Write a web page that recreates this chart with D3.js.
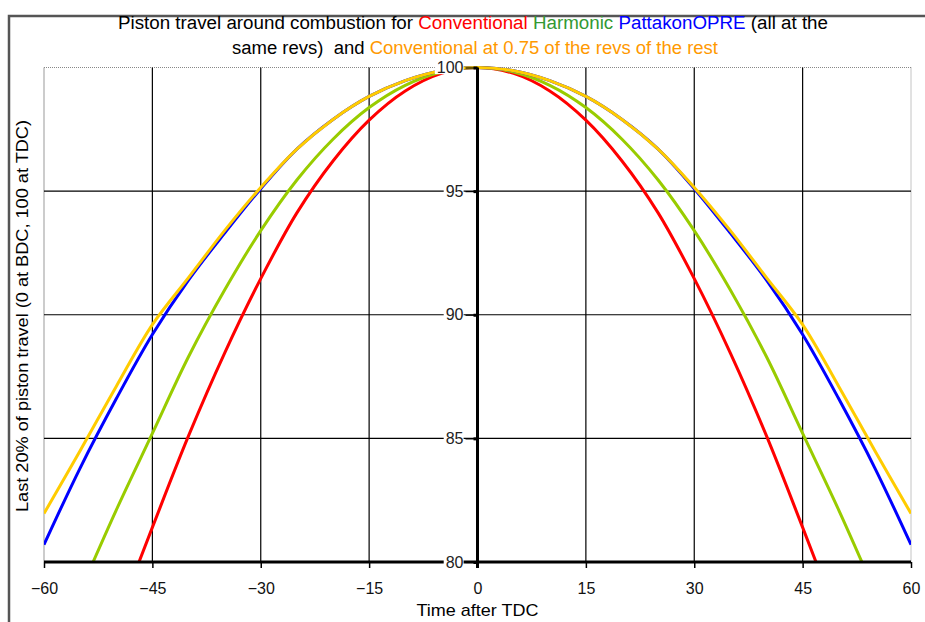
<!DOCTYPE html>
<html><head><meta charset="utf-8">
<script src="https://cdn.jsdelivr.net/npm/d3@7"></script>
<style>body{margin:0;background:#fff}svg{display:block}text{font-family:"Liberation Sans",Arial,sans-serif}</style>
</head><body><svg id="c" width="925" height="622"></svg>
<script>
const times = [-60,-55,-50,-45,-40,-35,-30,-25,-20,-15,-10,-5,0,5,10,15,20,25,30,35,40,45,50,55,60];
const conventional = [null,null,77.6,81.4,85.1,88.45,91.46,94.12,96.22,97.87,99.05,99.76,100,99.76,99.05,97.87,96.22,94.12,91.46,88.45,85.1,81.4,77.6,null,null];
const harmonic = [null,78.8,82.1,85.2,88.3,91.0,93.4,95.45,97.1,98.38,99.28,99.82,100,99.82,99.28,98.38,97.1,95.45,93.4,91.0,88.3,85.2,82.1,78.8,null];
const pattakon = [80.7,83.8,86.6,89.2,91.4,93.3,95.1,96.7,97.9,98.83,99.47,99.87,100,99.87,99.47,98.83,97.9,96.7,95.1,93.3,91.4,89.2,86.6,83.8,80.7];
const conv075 = [81.96,84.5,87.1,89.6,91.5,93.4,95.15,96.7,97.9,98.83,99.47,99.87,100,99.87,99.47,98.83,97.9,96.7,95.15,93.4,91.5,89.6,87.1,84.5,81.96];
const xTicks = [-60,-45,-30,-15,0,15,30,45,60];
const yTicks = [80,85,90,95,100];
const seriesNames = ["Conventional","Harmonic","PattakonOPRE","Conventional at 0.75 of the revs of the rest"];
const lineColors = ["#ff0000","#99cc00","#0000ff","#ffcc00"];

const svg = d3.select("#c");
const x = d3.scaleLinear().domain([-60,60]).range([44,911]);
const y = d3.scaleLinear().domain([80,100]).range([562,67.5]);

// outer frame
svg.append("path").attr("d","M9,622 L9,16 L925,16").attr("fill","none").attr("stroke","#555").attr("stroke-width",2.5);

// plot frame
svg.append("line").attr("x1",x(-60)).attr("x2",x(-60)).attr("y1",y(100)).attr("y2",y(80)).attr("stroke","#999").attr("stroke-width",1);
svg.append("line").attr("x1",x(-60)).attr("x2",x(60)).attr("y1",y(100)).attr("y2",y(100)).attr("stroke","#888").attr("stroke-width",1).attr("stroke-dasharray","1,1");
svg.append("line").attr("x1",x(60)).attr("x2",x(60)).attr("y1",y(100)).attr("y2",y(80)).attr("stroke","#888").attr("stroke-width",1).attr("stroke-dasharray","1,1");

// grid
svg.append("g").selectAll("line").data(xTicks.filter(t=>t!==-60&&t!==0&&t!==60)).join("line")
  .attr("x1",d=>x(d)).attr("x2",d=>x(d)).attr("y1",y(100)).attr("y2",y(80)).attr("stroke","#000").attr("stroke-width",1.2);
svg.append("g").selectAll("line").data([85,90,95]).join("line")
  .attr("x1",x(-60)).attr("x2",x(60)).attr("y1",d=>y(d)).attr("y2",d=>y(d)).attr("stroke","#000").attr("stroke-width",1.2);

// curves
svg.append("clipPath").attr("id","clip").append("rect").attr("x",x(-60)).attr("y",y(100)-4).attr("width",x(60)-x(-60)).attr("height",y(80)-y(100)+4);
const allSeries = [conventional,harmonic,pattakon,conv075];
const line = d3.line().defined(d=>d[1]!=null).x(d=>x(d[0])).y(d=>y(d[1])).curve(d3.curveCatmullRom);
allSeries.forEach((s,i)=>{
  svg.append("path").attr("clip-path","url(#clip)")
    .datum(times.map((t,j)=>[t,s[j]]))
    .attr("d",line).attr("fill","none").attr("stroke",lineColors[i]).attr("stroke-width",3);
});

// x axis
const xa = svg.append("g").attr("transform",`translate(0,${y(80)})`)
  .call(d3.axisBottom(x).tickValues(xTicks).tickSize(6).tickSizeOuter(0).tickPadding(15));
xa.select(".domain").remove();
xa.selectAll(".tick line").attr("stroke","#000").attr("stroke-width",1.5);
xa.selectAll("text").attr("font-size",16).attr("fill","#111");
svg.append("line").attr("x1",x(-60)).attr("x2",x(60)).attr("y1",y(80)).attr("y2",y(80)).attr("stroke","#000").attr("stroke-width",3);

// y axis
svg.append("line").attr("x1",x(0)).attr("x2",x(0)).attr("y1",y(100)).attr("y2",y(80)+6).attr("stroke","#000").attr("stroke-width",3);
const ya = svg.append("g").attr("transform",`translate(${x(0)},0)`)
  .call(d3.axisLeft(y).tickValues(yTicks).tickSize(12).tickPadding(2));
ya.select(".domain").remove();
ya.selectAll(".tick line").attr("stroke","#000").attr("stroke-width",1.2);
ya.selectAll(".tick").each(function(){
  const g = d3.select(this);
  const t = g.select("text").attr("font-size",16).attr("fill","#222");
  const b = t.node().getBBox();
  g.insert("rect","line").attr("x",b.x-2).attr("y",b.y+2).attr("width",b.width+2).attr("height",b.height-4).attr("fill","#fff");
  g.append("line").attr("x1",-4).attr("x2",0).attr("stroke","#000").attr("stroke-width",3);
});

// axis titles
svg.append("text").attr("x",x(0)).attr("y",616).attr("text-anchor","middle").attr("font-size",17)
  .attr("textLength",122).attr("lengthAdjust","spacingAndGlyphs").text("Time after TDC");
svg.append("text").attr("transform",`translate(28,316) rotate(-90)`).attr("text-anchor","middle").attr("font-size",16)
  .attr("textLength",392).attr("lengthAdjust","spacingAndGlyphs").text("Last 20% of piston travel (0 at BDC, 100 at TDC)");

// title
const t1 = svg.append("text").attr("x",118).attr("y",29).attr("font-size",18)
  .attr("textLength",710).attr("lengthAdjust","spacingAndGlyphs").attr("xml:space","preserve");
t1.append("tspan").text("Piston travel around combustion for ");
t1.append("tspan").attr("fill","#ff0000").text(seriesNames[0]);
t1.append("tspan").text(" ");
t1.append("tspan").attr("fill","#339933").text(seriesNames[1]);
t1.append("tspan").text(" ");
t1.append("tspan").attr("fill","#0000ff").text(seriesNames[2]);
t1.append("tspan").text(" (all at the");
const t2 = svg.append("text").attr("x",232).attr("y",54).attr("font-size",18)
  .attr("textLength",486).attr("lengthAdjust","spacingAndGlyphs").attr("xml:space","preserve");
t2.append("tspan").text("same revs)  and ");
t2.append("tspan").attr("fill","#ff9900").text(seriesNames[3]);
</script></body></html>
